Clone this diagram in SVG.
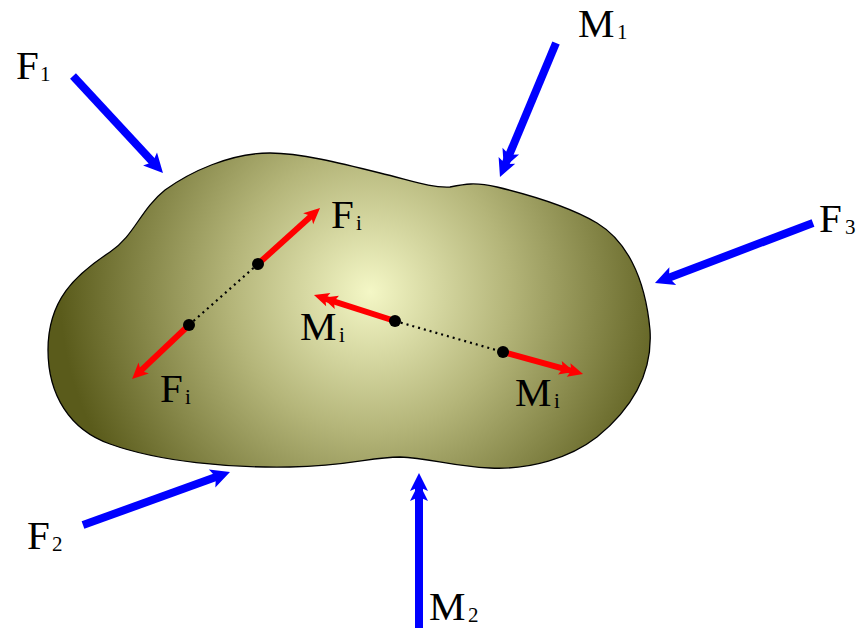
<svg xmlns="http://www.w3.org/2000/svg" width="866" height="628" viewBox="0 0 866 628">
<style>
text{font-family:"Liberation Serif","DejaVu Serif",serif;font-size:41px;fill:#000}
.sub{font-size:21px}
.blue{stroke:#0000ff;stroke-width:8;fill:none}
.red{stroke:#ff0000;stroke-width:6;fill:none}
.dot{fill:#000}
.dash{stroke:#000;stroke-width:2.2;stroke-dasharray:2 4;fill:none}
</style>
<defs>
<radialGradient id="g" gradientUnits="userSpaceOnUse" cx="370" cy="292" r="310">
<stop offset="0" stop-color="#f4f7c6"/>
<stop offset="0.45" stop-color="#b4b579"/>
<stop offset="1" stop-color="#5a5b1b"/>
</radialGradient>
<marker id="bh" markerUnits="userSpaceOnUse" viewBox="-10 -11 24 22" markerWidth="24" markerHeight="22" refX="0" refY="0" orient="auto">
<path d="M12,0 L-7,-9.5 L-3,0 L-7,9.5 z" fill="#0000ff"/>
</marker>
<marker id="bh2" markerUnits="userSpaceOnUse" viewBox="-20 -11 34 22" markerWidth="34" markerHeight="22" refX="0" refY="0" orient="auto">
<path d="M12,0 L-6,-9 L-2,0 L-6,9 z M2,0 L-16,-9 L-12,0 L-16,9 z" fill="#0000ff"/>
</marker>
<marker id="rh" markerUnits="userSpaceOnUse" viewBox="-8 -9 20 18" markerWidth="20" markerHeight="18" refX="0" refY="0" orient="auto">
<path d="M10,0 L-6,-7.5 L-2,0 L-6,7.5 z" fill="#ff0000"/>
</marker>
<marker id="rh2" markerUnits="userSpaceOnUse" viewBox="-16 -9 28 18" markerWidth="28" markerHeight="18" refX="0" refY="0" orient="auto">
<path d="M10,0 L-5,-7 L-2,0 L-5,7 z M1,0 L-14,-7 L-11,0 L-14,7 z" fill="#ff0000"/>
</marker>
</defs>

<g id="body">
<path d="M270,153 C300,153 340,163 380,173 C410,180 430,188 450,187 C465,184 475,182 497,187 C530,195 570,207 597,223 C625,240 645,275 650,330 C653,375 630,410 597,437 C570,458 530,470 490,468 C450,466 430,458 400,457 C370,457 350,466 290,467 C230,468 160,462 110,444 C70,430 48,395 48,350 C48,300 75,275 110,252 C135,235 140,210 165,190 C190,172 230,153 270,153 Z" fill="url(#g)" stroke="#000" stroke-width="1.3"/>
</g>

<g id="connectors">
<line class="blue" x1="73" y1="76" x2="154.8" y2="164.2" marker-end="url(#bh)"/>
<line class="blue" x1="556" y1="43" x2="504.6" y2="165.9" marker-end="url(#bh2)"/>
<line class="blue" x1="813" y1="223" x2="666.2" y2="278.7" marker-end="url(#bh)"/>
<line class="blue" x1="83" y1="525" x2="218.7" y2="476.1" marker-end="url(#bh)"/>
<line class="blue" x1="419" y1="628" x2="419" y2="485" marker-end="url(#bh2)"/>
<line class="dash" x1="258" y1="264" x2="189" y2="325"/>
<line class="dash" x1="395" y1="321" x2="503" y2="352"/>
<line class="red" x1="258" y1="264" x2="312.6" y2="214.7" marker-end="url(#rh)"/>
<line class="red" x1="189" y1="325" x2="139.3" y2="372.1" marker-end="url(#rh)"/>
<line class="red" x1="395" y1="321" x2="323.5" y2="298.1" marker-end="url(#rh2)"/>
<line class="red" x1="503" y1="352" x2="573.4" y2="371.4" marker-end="url(#rh2)"/>
</g>

<g id="points">
<circle class="dot" cx="258" cy="264" r="6"/>
<circle class="dot" cx="189" cy="325" r="6"/>
<circle class="dot" cx="395" cy="321" r="6"/>
<circle class="dot" cx="503" cy="352" r="6"/>
</g>

<g id="label-F1"><text x="16" y="79">F<tspan class="sub" x="40" y="81">1</tspan></text></g>
<g id="label-M1"><text x="578" y="37">M<tspan class="sub" x="617" y="39">1</tspan></text></g>
<g id="label-F3"><text x="819" y="232">F<tspan class="sub" x="845" y="234">3</tspan></text></g>
<g id="label-F2"><text x="27" y="549">F<tspan class="sub" x="52" y="551">2</tspan></text></g>
<g id="label-M2"><text x="429" y="620">M<tspan class="sub" x="468" y="622">2</tspan></text></g>
<g id="label-Fi-top"><text x="331" y="228">F<tspan class="sub" x="356" y="230">i</tspan></text></g>
<g id="label-Fi-bottom"><text x="160" y="402">F<tspan class="sub" x="185" y="404">i</tspan></text></g>
<g id="label-Mi-left"><text x="300" y="340">M<tspan class="sub" x="339" y="342">i</tspan></text></g>
<g id="label-Mi-right"><text x="515" y="406">M<tspan class="sub" x="554" y="408">i</tspan></text></g>
</svg>
